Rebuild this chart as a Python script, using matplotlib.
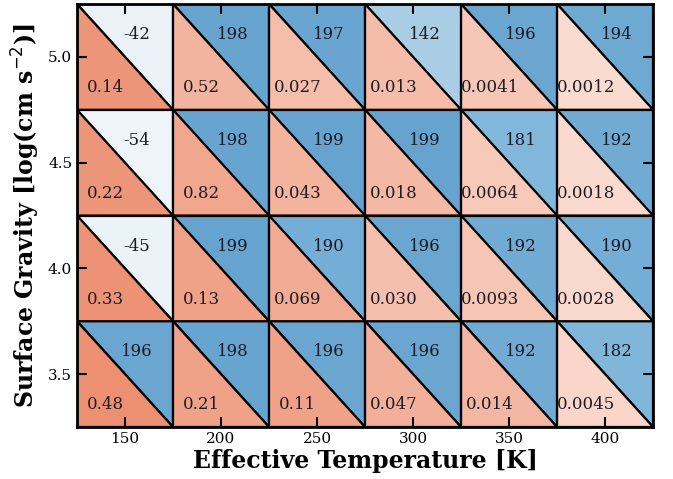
import matplotlib
matplotlib.use('Agg')
import matplotlib.pyplot as plt
import numpy as np
from matplotlib.collections import PolyCollection
from matplotlib.colors import LinearSegmentedColormap, Normalize

plt.rcParams['font.family'] = 'DejaVu Serif'

teff = [150, 200, 250, 300, 350, 400]
logg = [5.0, 4.5, 4.0, 3.5]

# upper-right triangle values (rows follow logg above)
upper_vals = [
    [-42, 198, 197, 142, 196, 194],
    [-54, 198, 199, 199, 181, 192],
    [-45, 199, 190, 196, 192, 190],
    [196, 198, 196, 196, 192, 182],
]
# lower-left triangle values
lower_vals = [
    [0.14, 0.52, 0.027, 0.013, 0.0041, 0.0012],
    [0.22, 0.82, 0.043, 0.018, 0.0064, 0.0018],
    [0.33, 0.13, 0.069, 0.030, 0.0093, 0.0028],
    [0.48, 0.21, 0.11, 0.047, 0.014, 0.0045],
]
# shading level of the lower triangles, estimated from the fill colour
lower_level = [
    [0.85, 0.50, 0.40, 0.42, 0.30, 0.08],
    [0.85, 0.65, 0.52, 0.45, 0.28, 0.09],
    [0.88, 0.70, 0.60, 0.38, 0.32, 0.10],
    [0.90, 0.70, 0.70, 0.55, 0.48, 0.13],
]

dx, dy = 50, 0.5

blue_cmap = LinearSegmentedColormap.from_list(
    'blues', [(0.0, '#f0f5fa'), (0.777, '#a8cde4'), (0.927, '#82b8db'), (1.0, '#66a3cf')])
red_cmap = LinearSegmentedColormap.from_list('reds', ['#fbe2d8', '#eb8767'])

fig = plt.figure(figsize=(6.73, 4.79), dpi=100)
ax = fig.add_axes([0.1144, 0.1086, 0.8560, 0.8830])

up_polys, lo_polys = [], []
up_c, lo_c = [], []
for i, g in enumerate(logg):
    for j, t in enumerate(teff):
        x0, x1 = t - dx / 2, t + dx / 2
        y0, y1 = g - dy / 2, g + dy / 2
        up_polys.append([(x0, y1), (x1, y1), (x1, y0)])
        lo_polys.append([(x0, y1), (x1, y0), (x0, y0)])
        up_c.append(upper_vals[i][j])
        lo_c.append(lower_level[i][j])
        ax.text(t + 6, g + 0.105, f'{upper_vals[i][j]:d}', ha='center', va='center',
                fontsize=12, color='#1c1c24')
        ax.text(t - 10, g - 0.145, f'{lower_vals[i][j]:#.2g}', ha='center', va='center',
                fontsize=12, color='#1c1c24')

pc_up = PolyCollection(up_polys, cmap=blue_cmap, norm=Normalize(-60, 200),
                       edgecolors='black', linewidths=1.6, zorder=1)
pc_up.set_array(np.array(up_c))
pc_lo = PolyCollection(lo_polys, cmap=red_cmap, norm=Normalize(0, 1),
                       edgecolors='black', linewidths=1.6, zorder=1)
pc_lo.set_array(np.array(lo_c))
ax.add_collection(pc_up)
ax.add_collection(pc_lo)

ax.set_xlim(125, 425)
ax.set_ylim(3.25, 5.25)
ax.set_xticks(teff)
ax.set_yticks([3.5, 4.0, 4.5, 5.0])
ax.tick_params(direction='in', top=True, right=True, length=7, width=1.5,
               labelsize=11, zorder=5)
for s in ax.spines.values():
    s.set_linewidth(2)
ax.set_xlabel('Effective Temperature [K]', fontsize=17, fontweight='bold', labelpad=2)
ax.set_ylabel(r'Surface Gravity [log(cm s$^{-2}$)]', fontsize=17, fontweight='bold', labelpad=4)

fig.savefig('out.png', dpi=100)
